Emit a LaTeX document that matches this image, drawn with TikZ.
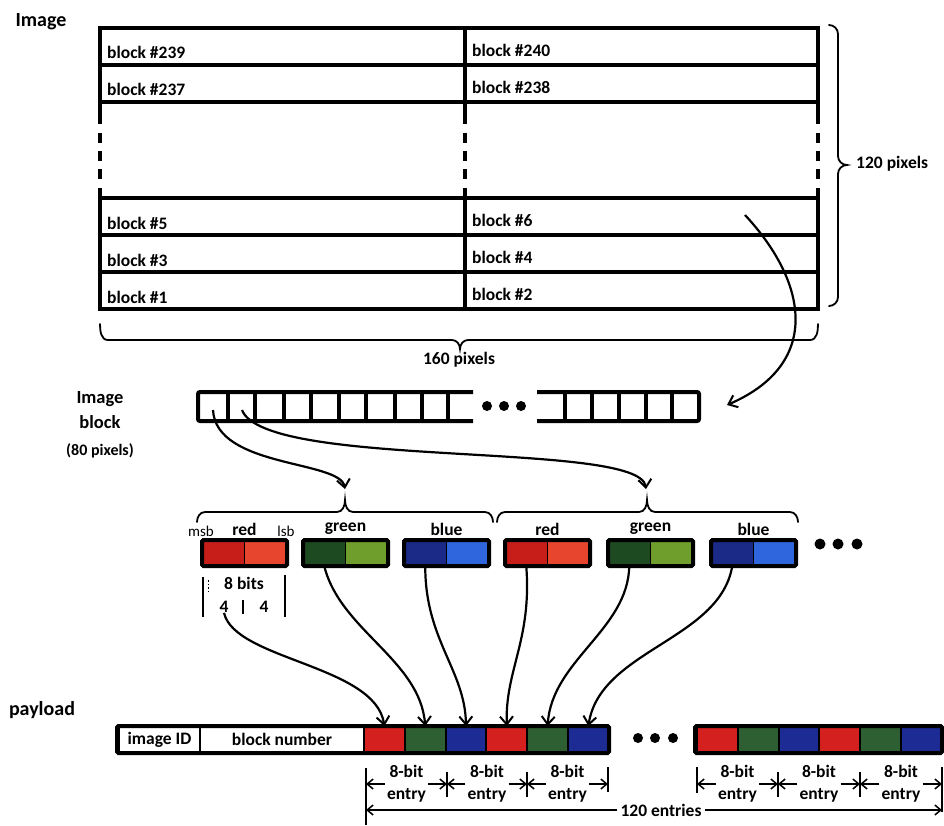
\documentclass[tikz,border=0pt]{standalone}
\usepackage{fontspec}
\setmainfont{Carlito}
\usetikzlibrary{arrows.meta,calc}
\definecolor{redA}{HTML}{C81E1A}
\definecolor{redB}{HTML}{E8452F}
\definecolor{greenA}{HTML}{1E4A22}
\definecolor{greenB}{HTML}{6F9E2C}
\definecolor{blueA}{HTML}{1B2A86}
\definecolor{blueB}{HTML}{2F66DD}
\definecolor{redP}{HTML}{D4201E}
\definecolor{greenP}{HTML}{2E5F32}
\definecolor{blueP}{HTML}{1D2B94}
\begin{document}
\begin{tikzpicture}[x=1pt,y=-1pt,
  lbl/.style={font=\fontsize{17.5}{22}\selectfont\bfseries, inner sep=0pt},
  head/.style={font=\fontsize{20}{25}\selectfont\bfseries, inner sep=0pt},
  smalltxt/.style={font=\fontsize{15}{18}\selectfont, inner sep=0pt},
  gridline/.style={line width=4.5pt},
  bracket/.style={line width=1.8pt, line cap=round},
  flow/.style={line width=2.2pt, -{Straight Barb[length=8pt,width=13pt,line width=2pt]}},
  stripline/.style={line width=4pt, rounded corners=2pt},
  half/.style={draw=black, line width=1.5pt, minimum width=42.5pt, minimum height=26pt, inner sep=0pt, outer sep=0pt, anchor=north west},
  boxframe/.style={line width=4pt, rounded corners=1.5pt},
  pcell/.style={draw=black, line width=2pt, minimum height=27pt, inner sep=0pt, outer sep=0pt, anchor=west, font=\fontsize{17.5}{22}\selectfont\bfseries},
  dimarrow/.style={line width=1.6pt, -{Straight Barb[length=6pt,width=10pt,line width=1.5pt]}},
  dimbar/.style={line width=1.8pt},
]
\useasboundingbox (0,0) rectangle (944,825);

% ---------- image made of blocks ----------
\node[head] (imgtitle) at (41,22) {Image};
\draw[gridline] (100,124) -- (100,28) -- (818,28) -- (818,124);
\draw[gridline] (100,188) -- (100,309) -- (818,309) -- (818,188);
\draw[gridline] (465,28) -- (465,124);
\draw[gridline] (465,188) -- (465,309);
\foreach \y in {65,102,198,235,272} \draw[gridline] (100,\y) -- (818,\y);
\foreach \x in {100,465,818}
  \foreach \a in {133,151,169} \draw[gridline] (\x,\a) -- (\x,\a+10);

\node[lbl, anchor=west] (b239) at (107,52) {block \#239};
\node[lbl, anchor=west] (b240) at (472,50) {block \#240};
\node[lbl, anchor=west] (b237) at (107,89) {block \#237};
\node[lbl, anchor=west] (b238) at (472,87) {block \#238};
\node[lbl, anchor=west] (b5) at (107,223) {block \#5};
\node[lbl, anchor=west] (b6) at (472,220) {block \#6};
\node[lbl, anchor=west] (b3) at (107,260) {block \#3};
\node[lbl, anchor=west] (b4) at (472,257) {block \#4};
\node[lbl, anchor=west] (b1) at (107,297) {block \#1};
\node[lbl, anchor=west] (b2) at (472,294) {block \#2};

% height brace
\draw[bracket] (829,25) to[out=0,in=90] (838,34) -- (838,156)
  to[out=-90,in=180] (847,165) to[out=180,in=90] (838,174) -- (838,297)
  to[out=-90,in=0] (829,306);
\node[lbl, anchor=west] (h120) at (856,164) {120 pixels};
% width brace
\draw[bracket] (100,324) to[out=-90,in=180] (108,340) -- (452,340)
  to[out=0,in=90] (460,349) to[out=90,in=180] (468,340) -- (810,340)
  to[out=0,in=-90] (818,324);
\node[lbl] (w160) at (459,360) {160 pixels};

% ---------- image block (pixel strip) ----------
\node[head, align=center, font=\fontsize{18.5}{25}\selectfont\bfseries] (blocktitle) at (100,410) {Image\\block};
\node[lbl, font=\fontsize{16}{20}\selectfont\bfseries] (blocksize) at (100,451) {(80 pixels)};
\draw[stripline] (473,392) -- (198,392) -- (198,421) -- (473,421);
\foreach \x in {228,255,284,311,339,366,395,422,448} \draw[stripline] (\x,392) -- (\x,421);
\draw[stripline] (537,392) -- (699,392) -- (699,421) -- (537,421);
\foreach \x in {565,592,619,646,672} \draw[stripline] (\x,392) -- (\x,421);
\foreach \x in {487,504,521} \fill (\x,406) circle[radius=5pt];

\coordinate (s6) at (745,215);
\coordinate (a6) at (727,405);
\draw[flow] (s6) .. controls (810,285) and (820,365) .. (a6);

% ---------- colour channels ----------
\foreach \x/\n/\ca/\cb/\t in {202/r1/redA/redB/red, 303/g1/greenA/greenB/green, 404/b1/blueA/blueB/blue, 505/r2/redA/redB/red, 608/g2/greenA/greenB/green, 711/b2/blueA/blueB/blue} {
  \node[half, fill=\ca] (\n-a) at (\x,540) {};
  \node[half, fill=\cb] (\n-b) at (\n-a.north east) {};
  \draw[boxframe] (\n-a.north west) rectangle (\n-b.south east);
  \node[lbl] (\n-t) at ($(\n-a.north east)+(0,-11)$) {\t};
}
\node[smalltxt] (msb) at (201,531) {msb};
\node[smalltxt] (lsb) at (286,531) {lsb};
\foreach \x in {820,838,857} \fill (\x,544) circle[radius=5.5pt];

% one brace per pixel (red, green, blue)
\draw[bracket] (197,522) to[out=90,in=180] (205,512) -- (337,512)
  to[out=0,in=-90] (345,500) to[out=-90,in=180] (353,512) -- (485,512)
  to[out=0,in=90] (493,522);
\draw[bracket] (497,522) to[out=90,in=180] (505,512) -- (639,512)
  to[out=0,in=-90] (647,500) to[out=-90,in=180] (655,512) -- (790,512)
  to[out=0,in=90] (798,522);

\coordinate (c1) at (213,410);
\coordinate (c2) at (242,410);
\coordinate (a1) at (345,489);
\coordinate (a2) at (646,489);
\draw[flow] (c1) .. controls (216,468) and (340,460) .. (a1);
\draw[flow] (c2) .. controls (265,470) and (640,440) .. (a2);

% bit layout under the first red channel
\draw[dimbar] (203,577) -- (203,617);
\draw[line width=1pt, dash pattern=on 1.5pt off 2pt] (208,580) -- (208,593);
\draw[dimbar] (285,575) -- (285,617);
\node[lbl] (bits) at (244,583) {8 bits};
\node[lbl] (fourL) at (224,607) {4};
\node[lbl] (fourR) at (264,607) {4};
\draw[dimbar] (243,600) -- (243,614);

% ---------- payload ----------
\node[head] (paytitle) at (42,710) {payload};
\node[pcell, minimum width=81pt, fill=white] (pid) at (119,739.5) {image ID};
\node[pcell, minimum width=164pt, fill=white] (pbn) at (pid.east) {block number};
\foreach \i/\c in {1/redP,2/greenP,3/blueP,4/redP,5/greenP,6/blueP}
  \node[pcell, minimum width=40.8pt, fill=\c] (p\i) at ($(364,739.5)+(\i*40.8-40.8,0)$) {};
\draw[boxframe] (117,726) rectangle (609,753);

\foreach \i/\c in {1/redP,2/greenP,3/blueP,4/redP,5/greenP,6/blueP}
  \node[pcell, minimum width=40.8pt, fill=\c] (q\i) at ($(697,739.5)+(\i*40.8-40.8,0)$) {};
\draw[boxframe] (695,726) rectangle (942,753);
\foreach \x in {638,655,673} \fill (\x,738) circle[radius=5pt];

\draw[flow] (fourL.south) .. controls (235,660) and (375,665) .. (p1.north);
\draw[flow] (g1-a.south) .. controls (340,630) and (420,660) .. (p2.north);
\draw[flow] (b1-a.south) .. controls (425,640) and (465,670) .. (p3.north);
\draw[flow] (r2-a.south) .. controls (532,640) and (505,670) .. (p4.north);
\draw[flow] (g2-a.south) .. controls (628,630) and (552,660) .. (p5.north);
\draw[flow] (b2-a.south) .. controls (720,640) and (600,650) .. (p6.north);

% ---------- entry dimensions ----------
\draw[dimbar] (366,768) -- (366,825);
\draw[dimbar] (608,767) -- (608,792);
\draw[dimbar] (697,767) -- (697,793);
\draw[dimbar] (942,767) -- (942,812);
\foreach \x in {447,527,778,860} \draw[dimbar] (\x,772) -- (\x,797);
\foreach \k/\x in {0/366,1/447,2/527,3/608,4/697,5/778,6/860,7/942} \coordinate (k\k) at (\x,783);
\foreach \e/\x/\l/\r in {1/406.5/0/1, 2/487/1/2, 3/567.5/2/3, 4/737.5/4/5, 5/819/5/6, 6/901/6/7} {
  \node[lbl, align=center, inner xsep=2pt] (e\e) at (\x,784) {8-bit\\entry};
  \draw[dimarrow] (e\e.west) -- (e\e.west -| k\l);
  \draw[dimarrow] (e\e.east) -- (e\e.east -| k\r);
}
\node[lbl, fill=white, inner xsep=3pt, inner ysep=1pt] (total) at (661,810) {120 entries};
\coordinate (t0) at (366,810);
\coordinate (t1) at (942,810);
\draw[dimarrow] (total.west) -- (t0);
\draw[dimarrow] (total.east) -- (t1);
\end{tikzpicture}
\end{document}
